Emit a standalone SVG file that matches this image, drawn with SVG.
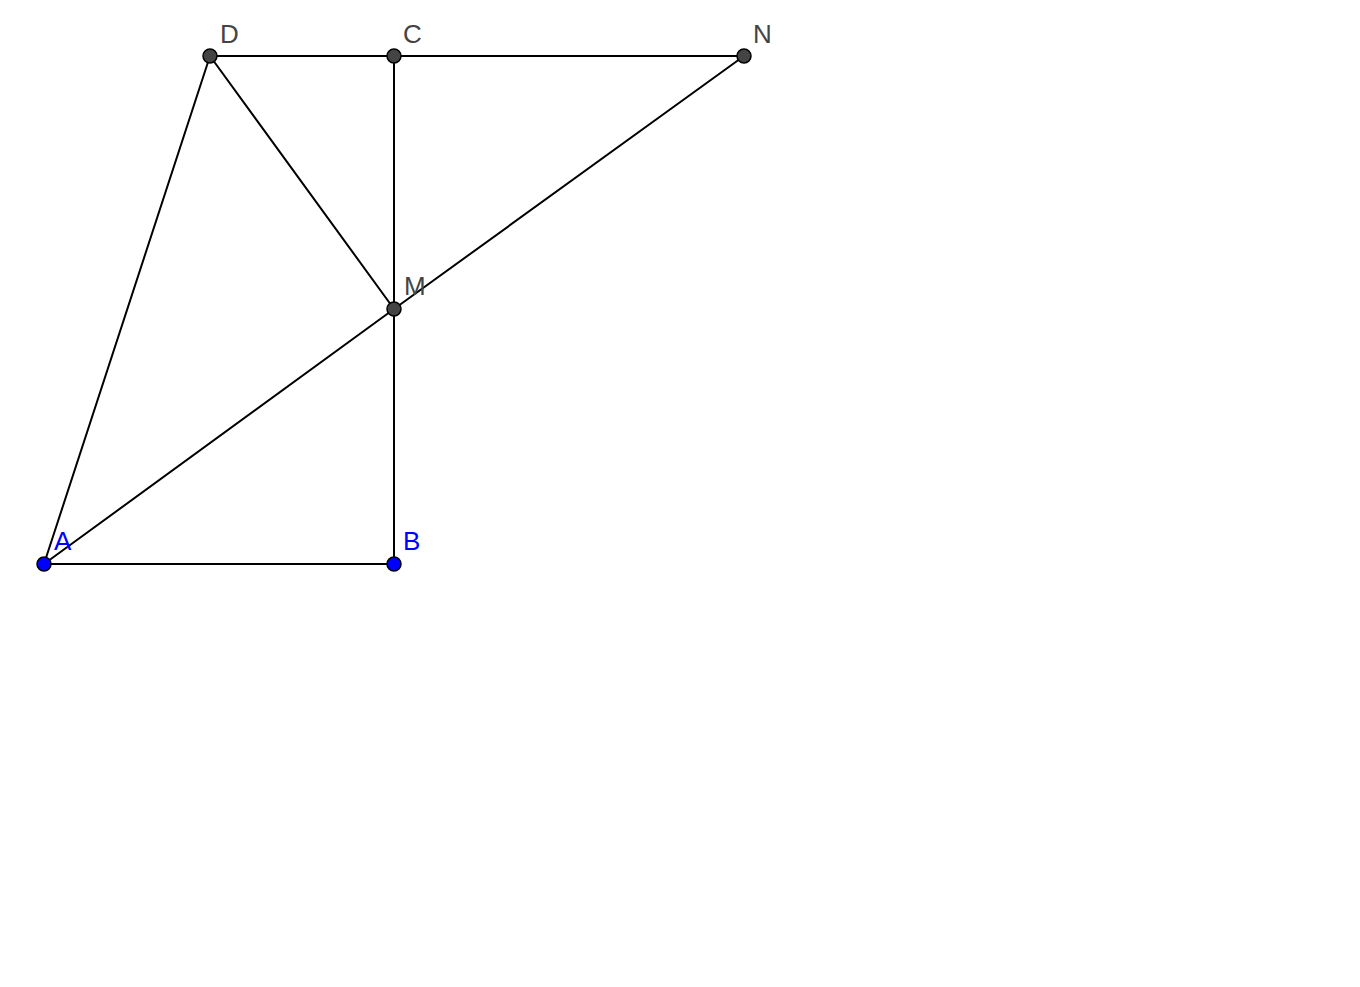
<svg xmlns="http://www.w3.org/2000/svg" width="1360" height="987" viewBox="0 0 1360 987">
<style>
.seg{stroke:#000;stroke-width:2;fill:none;stroke-linecap:round}
.pt{stroke:#000;stroke-width:1.5}
.dark{fill:#444}
.blue{fill:#0000ff}
.lbl{font-family:"Liberation Sans",Arial,sans-serif;font-size:26px}
</style>
<rect width="1360" height="987" fill="#fff"/>
<g id="connectors">
<line class="seg" x1="210" y1="56" x2="394" y2="56"/>
<line class="seg" x1="394" y1="56" x2="744" y2="56"/>
<line class="seg" x1="210" y1="56" x2="44" y2="564"/>
<line class="seg" x1="210" y1="56" x2="394" y2="309"/>
<line class="seg" x1="394" y1="56" x2="394" y2="309"/>
<line class="seg" x1="394" y1="309" x2="394" y2="564"/>
<line class="seg" x1="44" y1="564" x2="394" y2="309"/>
<line class="seg" x1="394" y1="309" x2="744" y2="56"/>
<line class="seg" x1="44" y1="564" x2="394" y2="564"/>
</g>
<g id="D"><circle class="pt dark" cx="210" cy="56" r="7"/><text class="lbl dark" x="220" y="43">D</text></g>
<g id="C"><circle class="pt dark" cx="394" cy="56" r="7"/><text class="lbl dark" x="403" y="43">C</text></g>
<g id="N"><circle class="pt dark" cx="744" cy="56" r="7"/><text class="lbl dark" x="753" y="43">N</text></g>
<g id="M"><circle class="pt dark" cx="394" cy="309" r="7"/><text class="lbl dark" x="404" y="295">M</text></g>
<g id="A"><circle class="pt blue" cx="44" cy="564" r="7"/><text class="lbl blue" x="54" y="550">A</text></g>
<g id="B"><circle class="pt blue" cx="394" cy="564" r="7"/><text class="lbl blue" x="403" y="550">B</text></g>
</svg>
